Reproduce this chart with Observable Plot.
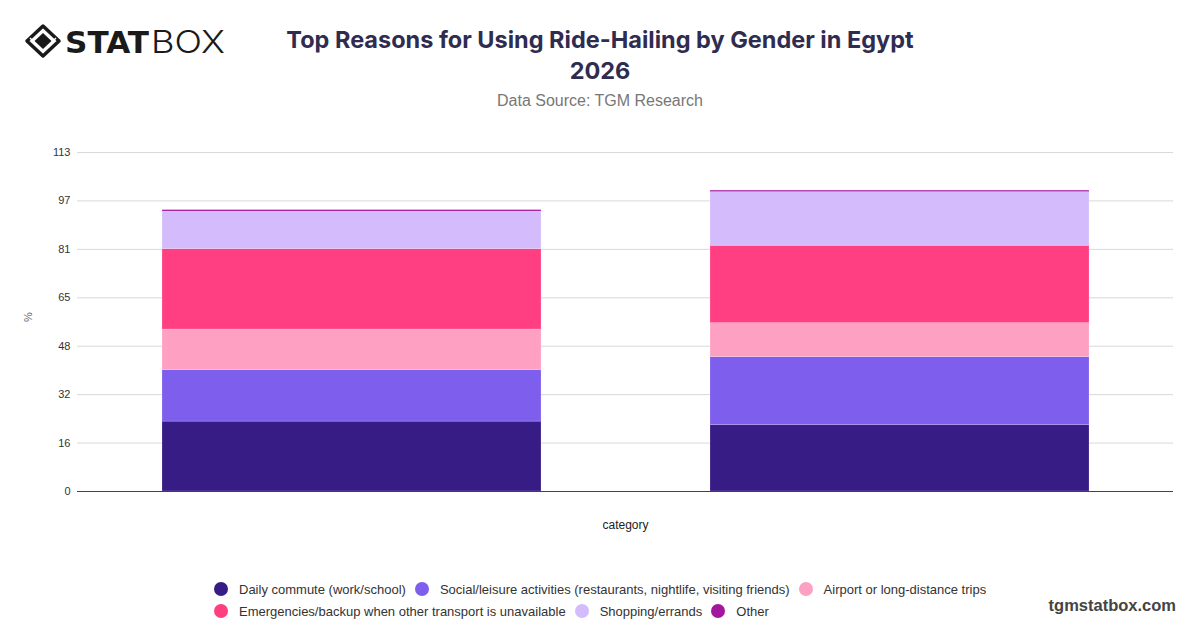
<!DOCTYPE html>
<html>
<head>
<meta charset="utf-8">
<script src="https://cdn.jsdelivr.net/npm/d3@7"></script>
<script src="https://cdn.jsdelivr.net/npm/@observablehq/plot@0.6"></script>
<style>
  html, body { margin: 0; padding: 0; background: #fff; }
  body { width: 1200px; height: 628px; position: relative; overflow: hidden; font-family: "Liberation Sans", Arial, sans-serif; }
  #logo { position: absolute; left: 26px; top: 22px; overflow: visible; }
  #title { position: absolute; left: 0; width: 1200px; top: 24px; text-align: center; font-family: Inter, sans-serif; font-weight: 700; font-size: 23.5px; line-height: 31px; color: #302c50; }
  #subtitle { position: absolute; left: 0; width: 1200px; top: 92px; text-align: center; font-family: "Liberation Sans", Arial, sans-serif; font-size: 16px; color: #777; }
  #chart { position: absolute; left: 0; top: 130px; }
  #legend { position: absolute; left: 214px; top: 580px; width: 790px; display: flex; flex-wrap: wrap; row-gap: 4px; font-size: 13px; color: #333; }
  .item { display: flex; align-items: center; margin-right: 9px; height: 18px; }
  .dot { width: 14px; height: 14px; border-radius: 50%; margin-right: 11px; }
  #site { position: absolute; right: 24px; top: 596px; font-family: "Liberation Sans", Arial, sans-serif; font-weight: 700; font-size: 16.5px; color: #444; }
</style>
</head>
<body>
<svg id="logo" width="205" height="38" viewBox="0 0 205 38">
  <g transform="translate(17,19)">
    <path d="M0,-15 L16,0 L0,15 L-16,0 Z" fill="none" stroke="#1a1a1a" stroke-width="3.5" stroke-linejoin="round"/>
    <path d="M0,-8 L8.5,0 L0,8 L-8.5,0 Z" fill="#1a1a1a"/>
    <line x1="-13" y1="-3" x2="-9" y2="1" stroke="#fff" stroke-width="1.5"/>
    <line x1="13" y1="-3" x2="9" y2="1" stroke="#fff" stroke-width="1.5"/>
  </g>
  <text x="39" y="31" font-family="'DejaVu Sans', sans-serif" font-weight="900" font-size="30" fill="#1a1a1a" textLength="84" lengthAdjust="spacingAndGlyphs">STAT</text>
  <text x="125" y="31" font-family="Inter, sans-serif" font-weight="300" font-size="31" fill="#1a1a1a" textLength="74" lengthAdjust="spacingAndGlyphs">BOX</text>
</svg>
<div id="title">Top Reasons for Using Ride-Hailing by Gender in Egypt<br>2026</div>
<div id="subtitle">Data Source: TGM Research</div>
<div id="chart"></div>
<div id="legend"></div>
<div id="site">tgmstatbox.com</div>
<script>
// Categories (x axis has no tick labels in the reference)
const categories = ["Male", "Female"];
const reasons = [
  "Daily commute (work/school)",
  "Social/leisure activities (restaurants, nightlife, visiting friends)",
  "Airport or long-distance trips",
  "Emergencies/backup when other transport is unavailable",
  "Shopping/errands",
  "Other"
];
const colors = ["#381c85", "#7e5eed", "#fda0c2", "#ff3f82", "#d4bcfc", "#a3179e"];
const dailyCommute = [23.3, 22.1];
const socialLeisure = [17.2, 22.7];
const airportTrips = [13.5, 11.3];
const emergencies = [26.8, 25.8];
const shopping = [12.5, 17.9];
const other = [0.5, 0.5];
const yTicks = [0, 16.14, 32.29, 48.43, 64.57, 80.71, 96.86, 113];

const series = [dailyCommute, socialLeisure, airportTrips, emergencies, shopping, other];
const data = [];
reasons.forEach((r, i) => categories.forEach((c, j) => data.push({category: c, reason: r, value: series[i][j]})));

const chart = Plot.plot({
  width: 1200,
  height: 410,
  marginTop: 22,
  marginBottom: 49,
  marginLeft: 77,
  marginRight: 27,
  style: {fontFamily: "'Liberation Sans', Arial, sans-serif", fontSize: "11px", color: "#333"},
  x: {domain: categories, padding: 0, label: null, axis: null},
  y: {domain: [0, 113], label: null},
  color: {domain: reasons, range: colors},
  marks: [
    Plot.gridY(yTicks, {stroke: "#d9d9d9", strokeOpacity: 1}),
    Plot.axisY(yTicks, {tickSize: 0, tickPadding: 7, tickFormat: d => Math.round(d), label: null, fontSize: 11}),
    Plot.text(["%"], {frameAnchor: "left", dx: -49, rotate: -90, fill: "#666", fontSize: 11}),
    Plot.barY(data, Plot.stackY({x: "category", y: "value", fill: "reason", order: null, insetLeft: 85, insetRight: 84, stroke: "#fff", strokeWidth: 0.6, strokeOpacity: 0.3})),
    Plot.ruleY([0], {stroke: "#444", strokeWidth: 1.2}),
    Plot.text(["category"], {frameAnchor: "bottom", dy: 37, fill: "#222", fontSize: 12})
  ]
});
document.getElementById("chart").appendChild(chart);

const legend = document.getElementById("legend");
reasons.forEach((r, i) => {
  const it = document.createElement("div");
  it.className = "item";
  it.innerHTML = `<span class="dot" style="background:${colors[i]}"></span><span>${r}</span>`;
  legend.appendChild(it);
});
</script>
</body>
</html>
